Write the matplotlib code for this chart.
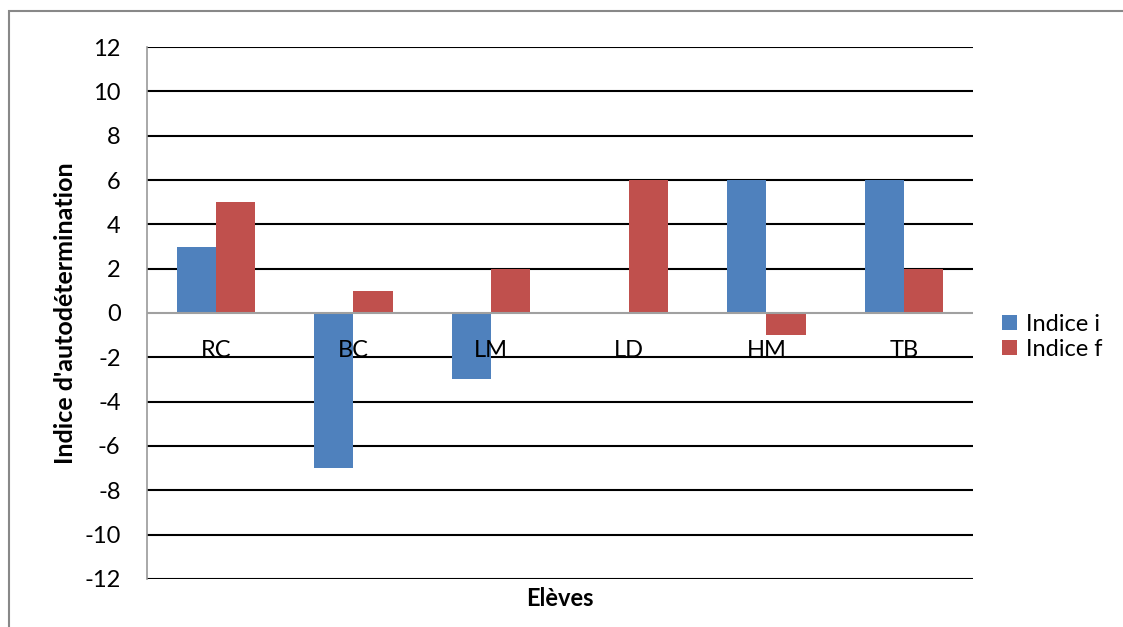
import numpy as np
import matplotlib.pyplot as plt
from matplotlib.patches import Rectangle

plt.rcParams['font.family'] = ['Lato', 'DejaVu Sans']
plt.rcParams['axes.unicode_minus'] = False

eleves = ['RC', 'BC', 'LM', 'LD', 'HM', 'TB']
indice_i = [3, -7, -3, 0, 6, 6]
indice_f = [5, 1, 2, 6, -1, 2]

fig = plt.figure(figsize=(11.23, 6.27), dpi=100)
ax = fig.add_axes([0.1309, 0.0766, 0.7355, 0.8484])

x = np.arange(len(eleves))
w = 0.285
ax.bar(x - w/2, indice_i, w, color='#4F81BD', label='Indice i', zorder=3)
ax.bar(x + w/2, indice_f, w, color='#C0504D', label='Indice f', zorder=3)

ax.set_xlim(-0.5, len(eleves) - 0.5)
ax.set_ylim(-12, 12)
ax.set_yticks(np.arange(-12, 13, 2))
ax.tick_params(axis='y', length=0, pad=19, labelsize=17)
ax.set_xticks([])
for s in ['top', 'right', 'bottom']:
    ax.spines[s].set_visible(False)
ax.spines['left'].set_color('#999999')
ax.spines['left'].set_linewidth(1.2)
for v in np.arange(-12, 13, 2):
    if v != 0:
        ax.axhline(v, color='black', lw=1.5, zorder=1)
ax.axhline(0, color='#A0A0A0', lw=1.5, zorder=4)

for xi, name in zip(x, eleves):
    ax.text(xi, -1.2, name, ha='center', va='top', fontsize=17)

ax.set_ylabel("Indice d'autodétermination", fontsize=18, fontweight='bold', labelpad=5)
ax.set_xlabel('Elèves', fontsize=17, fontweight='bold', labelpad=6)

ax.legend(loc='center left', bbox_to_anchor=(1.01, 0.455), frameon=False, fontsize=17,
          handlelength=0.6, handleheight=0.6, handletextpad=0.4, labelspacing=0.15)

fig.patches.append(Rectangle((9/1123, -0.1), 1.2, 1.1 - 10.5/627, transform=fig.transFigure,
                             fill=False, edgecolor='#888888', lw=1.5))

fig.savefig('out.png', dpi=100)
